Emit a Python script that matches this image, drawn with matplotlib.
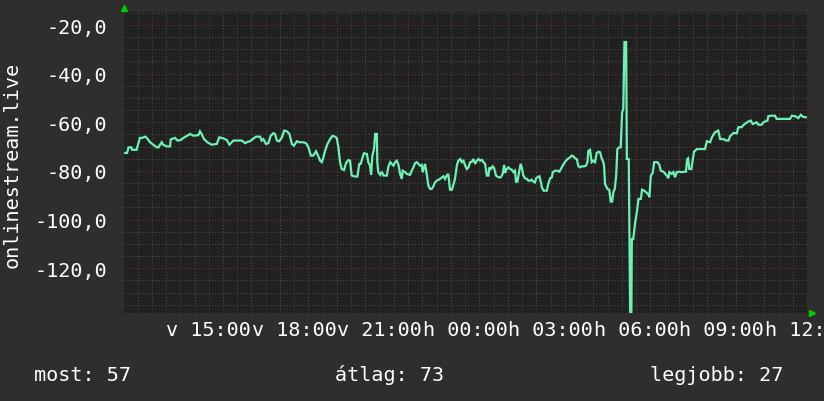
import matplotlib
matplotlib.use("Agg")
import matplotlib.pyplot as plt
from matplotlib.ticker import MultipleLocator
from matplotlib.transforms import blended_transform_factory

# minutes since 12:00 (start of the 24h window)
minutes = [
    4, 8, 11, 17, 18.5, 28, 31, 35, 40, 46,
    49.5, 56, 63, 70.5, 74, 81, 84, 91.5, 98.5, 100,
    109, 114, 121, 126.5, 134, 140.5, 147.5, 158, 161.5, 165,
    170, 177, 186, 197, 202, 211, 218, 223.5, 232, 249.5,
    254.5, 257, 262, 267, 272.5, 279.5, 288, 291.5, 295, 300.5,
    305.5, 310.5, 316, 319.5, 323.5, 328.5, 334, 339, 344.5, 350,
    355, 359.5, 365.5, 371, 379.5, 385, 390, 395, 400, 406,
    411, 414.5, 418, 421.5, 425, 430, 435.5, 440.5, 446, 449.5,
    453, 456.5, 460, 465, 469, 474, 477.5, 481, 488, 493,
    497, 500, 504.5, 507, 513, 516, 519.5, 522, 524.5, 528,
    530.5, 534, 535, 537, 541, 544.5, 548, 555, 558, 562,
    565.5, 569, 572.5, 576, 579.5, 583, 586.5, 588.5, 593.5, 597,
    604, 607.5, 611, 614.5, 618, 625, 628.5, 630.5, 635.5, 639,
    642.5, 646, 649.5, 653, 656.5, 660, 667, 674, 677.5, 681,
    684.5, 688, 692, 695, 698.5, 702.5, 705.5, 709.5, 713, 716.5,
    720, 723.5, 727, 730.5, 734, 737.5, 741, 744.5, 748, 751.5,
    755, 758.5, 762, 765.5, 769, 771, 774, 778, 781, 785,
    790, 795, 799, 802, 804, 807.5, 811, 814.5, 818, 821.5,
    825, 827, 830, 834, 837, 839.5, 842.5, 846, 850, 853,
    856.5, 860, 863.5, 867, 869.5, 872, 876.5, 879.5, 881.5, 885,
    892, 895, 899, 902.5, 904.5, 909.5, 914, 918.5, 921.5, 925.5,
    930.5, 935.5, 941, 944.5, 948, 951.5, 955, 958.5, 962, 965.5,
    970.5, 974.5, 977.5, 979.5, 983, 986.5, 990, 993.5, 997, 1000.5,
    1004, 1007.5, 1011, 1012.5, 1014.5, 1019.5, 1023.5, 1026.5, 1029.5, 1032,
    1035, 1038, 1040.5, 1044, 1047.5, 1050.5, 1053, 1055.5, 1059, 1060.5,
    1064.5, 1067.5, 1070, 1071, 1074, 1078, 1081.5, 1085, 1090, 1092.5,
    1097, 1101, 1106, 1108, 1111, 1115, 1118, 1125, 1129, 1132,
    1137.5, 1141, 1144.5, 1148, 1150, 1155, 1158.5, 1162, 1165.5, 1171,
    1176, 1181, 1185, 1187.5, 1189.5, 1192, 1196.5, 1199.5, 1202, 1208,
    1225, 1229, 1236, 1239.5, 1246, 1253, 1257, 1264, 1269.5, 1274.5,
    1278, 1285, 1292, 1295.5, 1302.5, 1306, 1311.5, 1316.5, 1321.5, 1325.5,
    1330.5, 1334, 1337.5, 1344.5, 1348, 1351.5, 1356.5, 1358.5, 1363.5, 1372.5,
    1376, 1397.5, 1404, 1408, 1415, 1418.5, 1421.5, 1427, 1431, 1434,
    1437.5,
]

values = [
    -72.6, -72.6, -70.3, -70.3, -71.3, -71.3, -69.2, -66.4, -66.4, -65.9,
    -66.4, -68.1, -69.2, -70.3, -70.3, -68.2, -69.2, -69.9, -69.9, -67.0,
    -66.4, -67.5, -67.3, -66.4, -65.6, -64.8, -65.5, -65.3, -63.7, -64.8,
    -66.9, -68.2, -69.2, -68.9, -66.2, -66.6, -67.3, -69.2, -67.5, -67.5,
    -68.2, -68.6, -68.0, -67.8, -66.9, -65.9, -65.9, -67.5, -66.9, -68.9,
    -68.6, -65.5, -64.5, -64.8, -67.5, -67.8, -66.2, -63.4, -63.7, -64.8,
    -68.9, -69.6, -67.8, -68.2, -68.2, -68.6, -70.3, -73.7, -73.7, -71.9,
    -74.1, -75.8, -76.4, -74.4, -71.7, -68.9, -66.9, -65.6, -65.9, -66.4,
    -70.3, -76.4, -79.2, -79.6, -76.8, -75.5, -75.8, -81.9, -82.3, -82.3,
    -77.1, -77.1, -74.1, -72.7, -73.0, -76.4, -77.8, -81.6, -73.7, -71.0,
    -64.8, -64.8, -76.4, -80.5, -81.6, -80.3, -81.9, -81.9, -78.5, -76.4,
    -77.1, -77.8, -76.4, -75.8, -77.5, -81.2, -83.3, -79.9, -80.5, -81.2,
    -81.6, -79.9, -78.5, -76.8, -76.4, -77.8, -77.5, -80.5, -77.1, -81.2,
    -86.0, -87.4, -87.4, -86.3, -84.7, -84.0, -83.3, -82.2, -83.3, -81.9,
    -81.2, -87.7, -87.7, -85.8, -83.3, -77.8, -75.8, -75.1, -76.4, -75.8,
    -77.8, -79.2, -78.5, -76.4, -76.2, -75.1, -77.1, -75.8, -75.1, -75.8,
    -75.4, -76.4, -77.1, -81.9, -81.9, -78.5, -79.2, -78.1, -78.9, -81.9,
    -82.6, -82.6, -81.2, -77.5, -80.8, -79.2, -78.5, -79.2, -79.5, -80.5,
    -79.9, -84.4, -84.4, -79.9, -77.1, -78.9, -81.9, -83.0, -83.3, -84.0,
    -84.0, -83.6, -84.4, -84.7, -83.0, -82.6, -82.2, -84.7, -86.7, -88.1,
    -88.1, -85.3, -83.0, -82.6, -80.5, -79.9, -79.9, -80.3, -79.2, -77.8,
    -76.2, -75.1, -74.4, -73.7, -74.0, -74.8, -75.1, -78.1, -78.5, -78.1,
    -78.1, -77.8, -76.4, -71.7, -71.3, -76.4, -75.8, -76.4, -72.6, -72.1,
    -72.3, -74.8, -76.4, -77.8, -85.3, -87.4, -87.7, -92.6, -92.6, -88.8,
    -87.4, -81.9, -71.0, -70.3, -70.3, -55.9, -54.5, -27.0, -27.0, -75.1,
    -75.1, -140.0, -140.0, -108.0, -108.0, -101.1, -97.0, -91.5, -91.5, -87.7,
    -88.1, -88.8, -89.6, -90.8, -81.9, -80.8, -76.4, -76.4, -77.5, -79.9,
    -80.3, -81.1, -81.9, -83.0, -80.5, -81.2, -80.5, -82.6, -80.5, -80.3,
    -80.5, -80.3, -80.3, -75.1, -74.8, -79.2, -79.2, -75.1, -72.1, -71.0,
    -71.0, -67.8, -68.2, -66.2, -64.1, -63.4, -66.9, -66.9, -67.5, -67.5,
    -65.7, -64.4, -64.5, -62.0, -62.0, -61.1, -60.3, -59.7, -59.3, -60.7,
    -60.3, -60.0, -61.0, -61.0, -60.0, -59.7, -59.3, -57.5, -57.3, -57.3,
    -58.6, -58.6, -58.6, -57.3, -57.5, -57.9, -58.3, -56.9, -57.7, -57.9,
    -57.9,
]

tick_minutes = [180, 360, 540, 720, 900, 1080, 1260, 1440]
tick_labels = ["v 15:00", "v 18:00", "v 21:00", "h 00:00",
               "h 03:00", "h 06:00", "h 09:00", "h 12:00"]
y_ticks = [-120, -100, -80, -60, -40, -20]
y_tick_labels = ["-120,0", "-100,0", "-80,0", "-60,0", "-40,0", "-20,0"]
y_title = "onlinestream.live"
footer_labels = ["most: 57", "átlag: 73", "legjobb: 27"]

n = min(len(minutes), len(values))
minutes = minutes[:n]
values = values[:n]

BG = "#2e2e2e"
PLOT_BG = "#212121"
LINE = "#6cf2b2"
MINOR = "#4e4e4e"
MAJOR = "#6e3434"
FONT = "DejaVu Sans Mono"
FS = 14.5

fig = plt.figure(figsize=(8.24, 4.02), dpi=100, facecolor=BG)
W, H = 824, 402
ax = fig.add_axes([124 / W, 1 - 314 / H, 684 / W, 301 / H])
ax.set_facecolor(PLOT_BG)
ax.set_xlim(1.5, 1442)
ax.set_ylim(-138.4, -14.65)

ax.xaxis.set_major_locator(MultipleLocator(60))
ax.xaxis.set_minor_locator(MultipleLocator(30))
ax.yaxis.set_minor_locator(MultipleLocator(5))
ax.set_yticks(y_ticks)
ax.set_yticklabels(y_tick_labels, fontfamily=FONT, fontsize=FS, color="white")
ax.set_xticklabels([])
ax.tick_params(axis="both", which="both", length=0)
ax.tick_params(axis="y", pad=12)

dash = (0, (1, 2))
ax.grid(which="minor", color=MINOR, linestyle=dash, linewidth=0.75)
ax.grid(which="major", color=MAJOR, linestyle=dash, linewidth=0.75)
ax.set_axisbelow(True)
for s in ax.spines.values():
    s.set_visible(False)

ax.plot(minutes, values, color=LINE, linewidth=1.6, solid_joinstyle="miter", zorder=3)

trans = blended_transform_factory(ax.transData, ax.transAxes)
for m, lab in zip(tick_minutes, tick_labels):
    ax.text(m, -17 / 301, lab, transform=trans, ha="center", va="center",
            fontfamily=FONT, fontsize=FS, color="white", clip_on=False)

fig.text(12 / W, 1 - 165 / H, y_title, rotation=90, ha="center", va="center",
         fontfamily=FONT, fontsize=FS, color="white")

footer_x = [34, 335, 650]
for fx, lab in zip(footer_x, footer_labels):
    fig.text(fx / W, 1 - 381 / H, lab, ha="left", va="baseline",
             fontfamily=FONT, fontsize=FS, color="white")

# axis arrows
fig.lines.append(plt.Line2D([124 / W], [1 - 9 / H], marker="^", markersize=5,
                            color="#00cc00", transform=fig.transFigure))
fig.lines.append(plt.Line2D([812 / W], [1 - 314 / H], marker=">", markersize=5,
                            color="#00cc00", transform=fig.transFigure))

fig.savefig("out.png", dpi=100, facecolor=BG)
